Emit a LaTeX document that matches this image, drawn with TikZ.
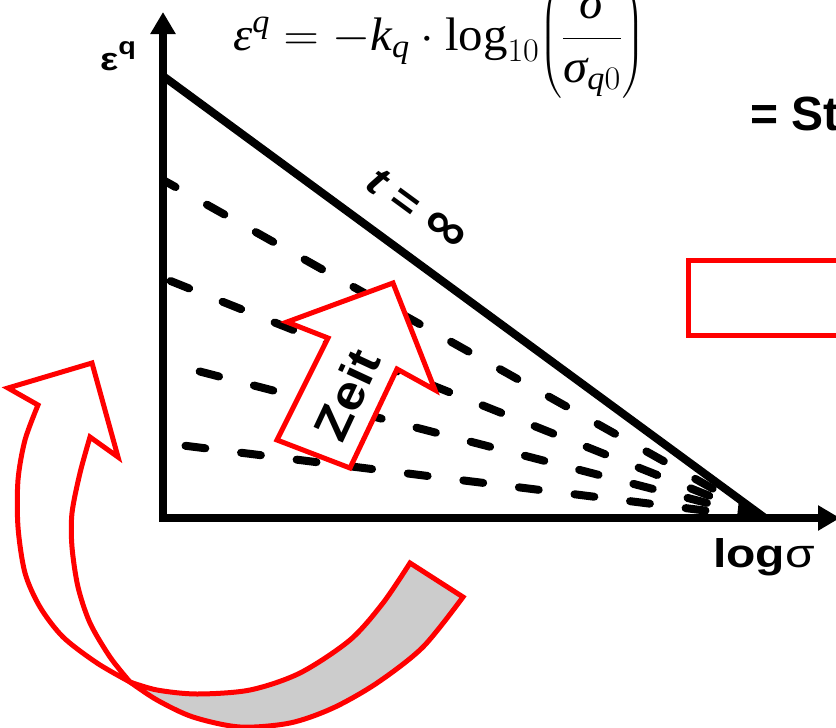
\RequirePackage{fix-cm}
\documentclass[tikz,border=0pt]{standalone}
\usepackage{amsmath}
\usepackage{fontspec}
\setmainfont{Liberation Serif}
\newfontfamily\arial{Liberation Sans}
\usetikzlibrary{arrows.meta}

\begin{document}
\begin{tikzpicture}[x=1pt, y=-1pt,
    axisline/.style={line width=8pt, line join=miter,
        {Triangle[width=24pt,length=22pt]}-{Triangle[width=24pt,length=22pt]}},
    creepline/.style={line width=8pt, line cap=round,
        dash pattern=on 20pt off 36pt, dash phase=52pt},
    redshape/.style={draw=red, line width=5pt, line join=miter},
    sanslabel/.style={font=\arial\bfseries\fontsize{40}{48}\selectfont, inner sep=0pt}]
    \useasboundingbox (0,0) rectangle (836,728);
    \clip (0,0) rectangle (836,728);

    % axes and curves
    \coordinate (O) at (163,518);
    \coordinate (V) at (765,518);
    \draw[axisline] (163,12) -- (O) -- (840,518);
    \draw[line width=8pt] (163,76) -- (V);
    \foreach \x/\y [count=\i] in {163/180, 163/278, 167/363, 163/443}
        \draw[creepline] (V) -- (\x,\y) coordinate (c\i);
    \fill (V) -- (737,518) -- (739,499) -- cycle;

    % labels
    \node[sanslabel, anchor=base west, xscale=1.2] (epsq) at (100,70)
        {\fontsize{32}{38}\selectfont ε\raisebox{16pt}{\fontsize{24}{28}\selectfont q}};
    \node[sanslabel, anchor=base west, xscale=1.2] (logsig) at (713,567) {log{\mdseries σ}};
    \node[sanslabel, rotate=-36.3, xscale=1.12, font=\arial\bfseries\fontsize{42}{50}\selectfont] (tinf) at (417,210)
        {\itshape t\upshape{} = {\fontsize{54}{60}\selectfont ∞}};
    \node[anchor=base west, inner sep=0pt, xscale=1.04] (law) at (233,50)
        {\fontsize{47}{56}\selectfont
        $\textit{ε}^{\textit{q}} = -\textit{k}_{\textit{q}}\cdot\log_{10}\!\left(\dfrac{\textit{σ}}{\textit{σ}_{\textit{q}0}}\right)$};
    \node[sanslabel, anchor=base west, font=\arial\bfseries\fontsize{48}{56}\selectfont] (st) at (750,130) {= St};

    % red box
    \draw[redshape] (688,260.5) rectangle (900,335.5);

    % time arrow
    \draw[redshape, fill=white] (393,283) -- (435,390) -- (397,369) -- (350,468)
        -- (277,440) -- (328,338) -- (287,322) -- cycle;
    \node[sanslabel, rotate=65, xscale=1.1, font=\arial\bfseries\fontsize{48}{56}\selectfont] (zeit) at (347,395) {Zeit};

    % curved arrow
    \draw[redshape, fill=gray!40]
        plot[smooth] coordinates {(130,682) (157,690) (197,694) (250,690) (300,673) (350,640) (383,603) (410,563)}
        -- plot[smooth] coordinates {(463,597) (423,647) (377,683) (333,708) (290,723) (240,727) (193,717) (157,700) (130,682)}
        -- cycle;
    \draw[redshape, fill=white] (38,405) -- (8,388) -- (92,363) -- (118,457) -- (90,437)
        -- plot[smooth] coordinates {(90,437) (80,473) (72,513) (72,547) (78,587) (90,623) (110,657) (130,682)}
        -- plot[smooth] coordinates {(130,682) (97,663) (63,637) (40,607) (25,573) (18,527) (18,480) (25,440) (38,405)}
        -- cycle;
\end{tikzpicture}
\end{document}
